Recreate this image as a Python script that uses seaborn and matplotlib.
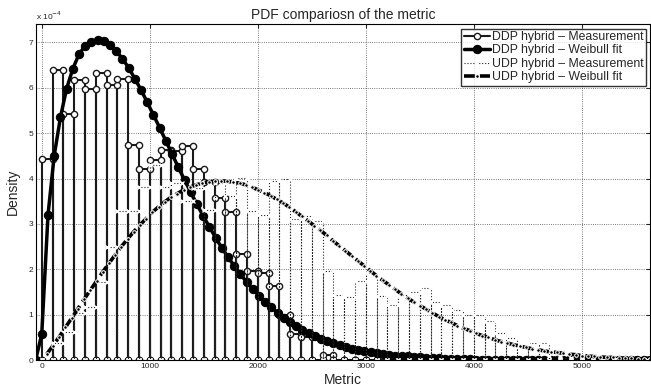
import numpy as np
import matplotlib
matplotlib.use("Agg")
import matplotlib.pyplot as plt
import seaborn as sns

# histogram bins (width 100, first edge at 0), heights in units of 1e-4
BIN_W = 100
ddp_meas = [4.42, 6.40, 5.43, 6.17, 5.97, 6.33, 6.07, 6.20, 4.75, 4.20,
            4.41, 4.64, 4.60, 4.72, 4.20, 3.93, 3.58, 3.27, 2.33, 1.96,
            1.92, 1.63, 0.99, 0.57, 0.50, 0.00, 0.11, 0.00, 0.00, 0.00,
            0.00, 0.00, 0.00, 0.00, 0.00, 0.00, 0.00, 0.00, 0.00, 0.00,
            0.00, 0.00, 0.00, 0.00, 0.00, 0.00, 0.00, 0.00, 0.00, 0.00,
            0.00, 0.00, 0.00, 0.00, 0.00, 0.00]
udp_meas = [0.00, 0.37, 0.62, 1.03, 1.17, 1.72, 2.50, 3.28, 3.28, 3.82,
            4.30, 3.82, 3.90, 3.50, 3.80, 3.30, 3.90, 3.62, 4.02, 3.28,
            3.20, 3.95, 3.98, 3.10, 3.17, 3.07, 1.96, 1.43, 1.38, 1.75,
            1.91, 1.41, 1.21, 1.43, 1.50, 1.58, 1.28, 1.21, 1.10, 0.99,
            0.99, 0.86, 0.60, 0.49, 0.30, 0.38, 0.38, 0.10, 0.05, 0.05,
            0.00, 0.00, 0.00, 0.00, 0.00, 0.00]

# Weibull fit curves (density in 1e-4)
ddp_fit_x = [-57, 0, 58, 115, 173, 230, 288, 345, 403, 460,
             517, 575, 632, 690, 747, 805, 862, 920, 977, 1034,
             1092, 1149, 1207, 1264, 1322, 1379, 1437, 1494, 1551, 1609,
             1666, 1724, 1781, 1839, 1896, 1954, 2011, 2068, 2126, 2183,
             2241, 2298, 2356, 2413, 2471, 2528, 2585, 2643, 2700, 2758,
             2815, 2873, 2930, 2988, 3045, 3102, 3160, 3217, 3275, 3332,
             3390, 3447, 3505, 3562, 3619, 3677, 3734, 3792, 3849, 3907,
             3964, 4021, 4079, 4136, 4194, 4251, 4308, 4366, 4423, 4481,
             4538, 4596, 4653, 4711, 4768, 4825, 4883, 4940, 4998, 5055,
             5113, 5170, 5228, 5285, 5342, 5400, 5457, 5515, 5572, 5630]
ddp_fit_y = [0.00, 0.57, 3.20, 4.50, 5.35, 5.98, 6.42, 6.74, 6.93, 7.01,
             7.06, 7.03, 6.95, 6.81, 6.64, 6.44, 6.20, 5.95, 5.68, 5.40,
             5.12, 4.83, 4.54, 4.25, 3.97, 3.70, 3.43, 3.18, 2.94, 2.70,
             2.48, 2.27, 2.08, 1.90, 1.72, 1.57, 1.42, 1.28, 1.16, 1.04,
             0.93, 0.84, 0.75, 0.67, 0.60, 0.53, 0.47, 0.42, 0.37, 0.33,
             0.29, 0.25, 0.22, 0.20, 0.17, 0.15, 0.13, 0.11, 0.10, 0.09,
             0.08, 0.07, 0.06, 0.05, 0.04, 0.04, 0.03, 0.03, 0.02, 0.02,
             0.02, 0.01, 0.01, 0.01, 0.01, 0.01, 0.00, 0.00, 0.00, 0.00,
             0.00, 0.00, 0.00, 0.00, 0.00, 0.00, 0.00, 0.00, 0.00, 0.00,
             0.00, 0.00, 0.00, 0.00, 0.00, 0.00, 0.00, 0.00, 0.00, 0.00]
udp_fit_x = [46, 104, 161, 219, 276, 334, 392, 449, 507, 564,
             622, 680, 737, 795, 852, 910, 968, 1025, 1083, 1140,
             1198, 1256, 1313, 1371, 1428, 1486, 1544, 1601, 1659, 1716,
             1774, 1832, 1889, 1947, 2004, 2062, 2120, 2177, 2235, 2292,
             2350, 2408, 2465, 2523, 2580, 2638, 2696, 2753, 2811, 2868,
             2926, 2984, 3041, 3099, 3156, 3214, 3272, 3329, 3387, 3444,
             3502, 3560, 3617, 3675, 3732, 3790, 3848, 3905, 3963, 4020,
             4078, 4136, 4193, 4251, 4308, 4366, 4424, 4481, 4539, 4596,
             4654, 4712, 4769, 4827, 4884, 4942, 5000, 5057, 5115, 5172,
             5230, 5288, 5345, 5403, 5460, 5518, 5576, 5633]
udp_fit_y = [0.13, 0.32, 0.51, 0.72, 0.92, 1.13, 1.34, 1.54, 1.74, 1.94,
             2.13, 2.32, 2.50, 2.67, 2.83, 2.98, 3.12, 3.26, 3.38, 3.49,
             3.59, 3.67, 3.75, 3.81, 3.86, 3.90, 3.93, 3.94, 3.95, 3.94,
             3.92, 3.90, 3.86, 3.81, 3.75, 3.69, 3.62, 3.54, 3.46, 3.37,
             3.27, 3.17, 3.07, 2.96, 2.86, 2.75, 2.63, 2.52, 2.41, 2.30,
             2.19, 2.08, 1.97, 1.86, 1.76, 1.66, 1.56, 1.46, 1.37, 1.28,
             1.20, 1.12, 1.04, 0.96, 0.89, 0.83, 0.76, 0.70, 0.65, 0.59,
             0.54, 0.50, 0.45, 0.41, 0.38, 0.34, 0.31, 0.28, 0.25, 0.23,
             0.20, 0.18, 0.17, 0.15, 0.13, 0.12, 0.10, 0.09, 0.08, 0.07,
             0.06, 0.06, 0.05, 0.04, 0.04, 0.03, 0.03, 0.03]

SCALE = 1e-4


def outline(h, w=BIN_W):
    # bar outline: up the left edge, across the top, down the right edge
    xs, ys = [], []
    for i, v in enumerate(h):
        e = i * w
        xs += [e, e, e + w, e + w]
        ys += [0, v, v, 0]
    return np.array(xs, float), np.array(ys, float) * SCALE


sns.set_style("white")
plt.rcParams["font.family"] = ["Liberation Sans", "DejaVu Sans"]
fig = plt.figure(figsize=(6.51, 3.91), dpi=100)
ax = fig.add_axes([0.055, 0.079, 0.9435, 0.859])

mx, my = outline(ddp_meas)
sns.lineplot(x=mx, y=my, sort=False, estimator=None, color="0.1", lw=1.5, marker="o", ms=4.5,
             mfc="white", mec="0.1", mew=1.0, label="DDP hybrid \u2013 Measurement", ax=ax)
sns.lineplot(x=ddp_fit_x, y=np.array(ddp_fit_y) * SCALE, sort=False, estimator=None, color="k",
             lw=2.5, marker="o", ms=6, mec="k", label="DDP hybrid \u2013 Weibull fit", ax=ax)
ux, uy = outline(udp_meas)
sns.lineplot(x=ux, y=uy, sort=False, estimator=None, color="0.15", lw=0.8, ls=":", marker="x", ms=3.2,
             mew=1.0, label="UDP hybrid \u2013 Measurement", ax=ax)
sns.lineplot(x=udp_fit_x, y=np.array(udp_fit_y) * SCALE, sort=False, estimator=None, color="k",
             lw=2.6, ls=(0, (3.0, 1.4)), marker="o", ms=2.6, label="UDP hybrid \u2013 Weibull fit", ax=ax)

ax.set_xlim(-55, 5632)
ax.set_ylim(0, 7.4e-4)
ax.set_xticks([0, 1000, 2000, 3000, 4000, 5000])
ax.set_yticks(np.arange(0, 8) * SCALE)
ax.set_yticklabels([str(i) for i in range(8)])
ax.text(0.0, 1.012, r"x 10$^{-4}$", transform=ax.transAxes, fontsize=6)
ax.tick_params(direction="in", labelsize=6, top=True, right=True, length=3, pad=2)
ax.grid(True, ls=":", color="0.3", lw=0.6)
for s in ax.spines.values():
    s.set_color("k")
    s.set_linewidth(0.8)
ax.set_title("PDF compariosn of the metric", fontsize=10, pad=4)
ax.set_xlabel("Metric", fontsize=10, labelpad=2)
ax.set_ylabel("Density", fontsize=10, labelpad=6)
leg = ax.legend(loc="upper right", fontsize=8.8, frameon=True, fancybox=False, edgecolor="k",
                handlelength=2.2, borderpad=0.2, labelspacing=0.12, handletextpad=0.1,
                borderaxespad=0.35)
leg.get_frame().set_linewidth(1.0)
fig.savefig("out.png", dpi=100)
